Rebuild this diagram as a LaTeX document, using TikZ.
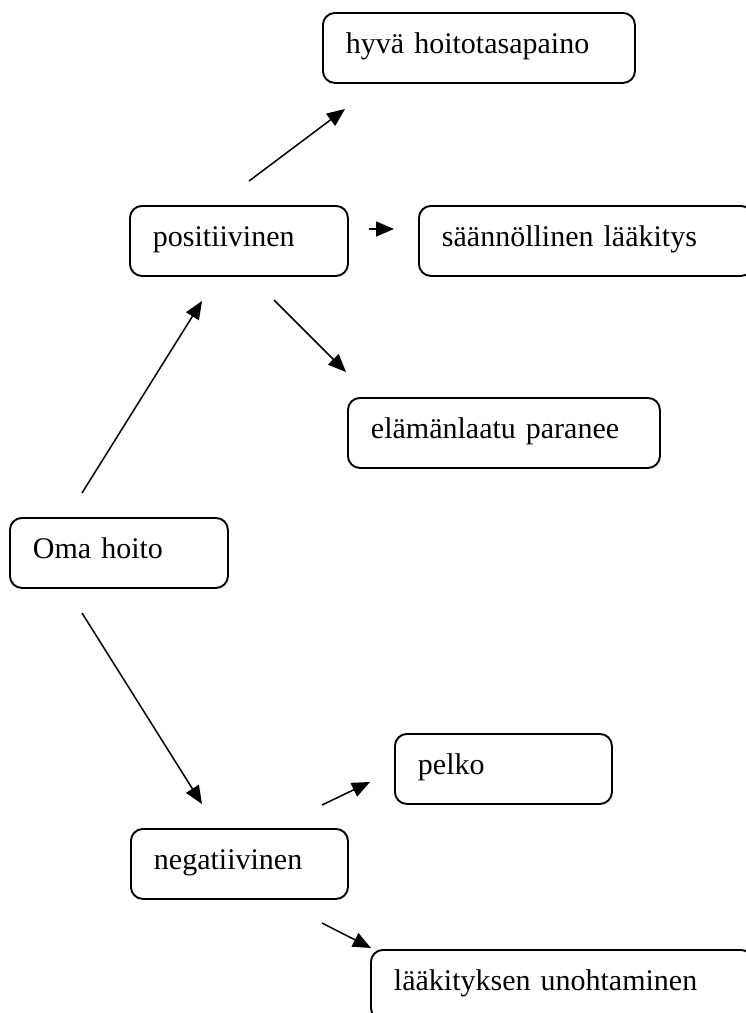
\documentclass[tikz,border=0pt]{standalone}
\usepackage{fontspec}
\setmainfont{Liberation Serif}
\usetikzlibrary{arrows.meta}
\begin{document}
\begin{tikzpicture}[x=1pt,y=-1pt,
  box/.style={draw, line width=1.9pt, rounded corners=12pt, anchor=north west,
    minimum height=70pt, inner xsep=23pt, inner ysep=0pt, align=left,
    font=\fontsize{30}{32}\selectfont, text height=19pt, text depth=7pt},
  arr/.style={line width=1.5pt, -{Triangle[length=18pt,width=15pt]}}]
\useasboundingbox (0,0) rectangle (746,1013);
\clip (0,0) rectangle (746,1013);

% boxes
\node[box, text width=266pt] (hyva)  at (322,12)  {hyvä hoitotasapaino};
\node[box, text width=172pt] (pos)   at (129,205) {positiivinen};
\node[box, text width=288pt] (saan)  at (418,205) {säännöllinen lääkitys};
\node[box, text width=266pt] (elam)  at (347,397) {elämänlaatu paranee};
\node[box, text width=172pt] (oma)   at (9,517)   {Oma hoito};
\node[box, text width=171pt] (pelko) at (394,733) {pelko};
\node[box, text width=171pt] (neg)   at (130,828) {negatiivinen};
\node[box, text width=336pt] (laak)  at (370,949) {lääkityksen unohtaminen};

% arrow ends
\coordinate (p1) at (249,181); \coordinate (h1) at (345,109);
\coordinate (p2) at (369,229); \coordinate (h2) at (394,229);
\coordinate (p3) at (274,300); \coordinate (h3) at (346,372);
\coordinate (o1) at (82,493);  \coordinate (t1) at (202,301);
\coordinate (o2) at (82,613);  \coordinate (t2) at (202,804);
\coordinate (n1) at (322,805); \coordinate (k1) at (370,782);
\coordinate (n2) at (322,923); \coordinate (k2) at (371,948);

% connectors
\draw[arr] (p1) -- (h1);
\draw[arr] (p2) -- (h2);
\draw[arr] (p3) -- (h3);
\draw[arr] (o1) -- (t1);
\draw[arr] (o2) -- (t2);
\draw[arr] (n1) -- (k1);
\draw[arr] (n2) -- (k2);
\end{tikzpicture}
\end{document}
